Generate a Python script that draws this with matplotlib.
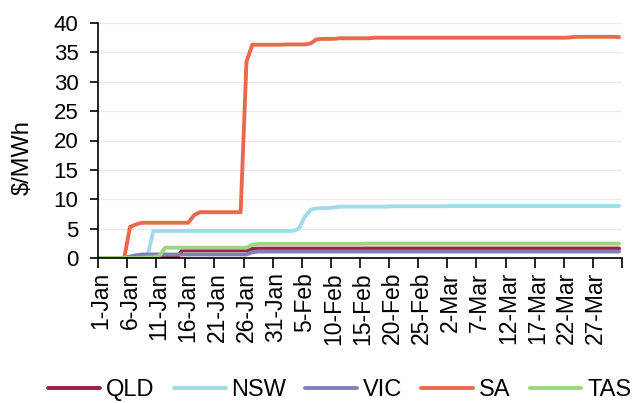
import numpy as np
import pandas as pd
import matplotlib
matplotlib.use('Agg')
import matplotlib.pyplot as plt

plt.rcParams['font.family'] = ['Liberation Sans', 'DejaVu Sans']

# daily cumulative values, 1 Jan to 31 Mar
days = pd.date_range('2019-01-01', '2019-03-31', freq='D')
day_labels = [f'{d.day}-{d.strftime("%b")}' for d in days]

qld = [0, 0, 0, 0, 0, 0, 0, 0, 0, 0,
       0, 0, 0, 0, 1.3, 1.3, 1.3, 1.3, 1.3, 1.3,
       1.3, 1.3, 1.3, 1.3, 1.3, 1.3, 1.55, 1.6, 1.6, 1.6,
       1.6, 1.6, 1.6, 1.6, 1.6, 1.6, 1.6, 1.6, 1.6, 1.6,
       1.6, 1.6, 1.6, 1.6, 1.6, 1.6, 1.62, 1.62, 1.62, 1.62,
       1.62, 1.62, 1.62, 1.62, 1.62, 1.62, 1.62, 1.62, 1.62, 1.62,
       1.62, 1.62, 1.62, 1.62, 1.62, 1.62, 1.62, 1.62, 1.62, 1.62,
       1.62, 1.62, 1.62, 1.62, 1.62, 1.62, 1.62, 1.62, 1.62, 1.62,
       1.62, 1.62, 1.62, 1.62, 1.62, 1.62, 1.62, 1.62, 1.62, 1.62]

nsw = [0, 0, 0, 0, 0, 0, 0, 0, 0.3, 4.6,
       4.6, 4.6, 4.6, 4.6, 4.6, 4.6, 4.6, 4.6, 4.6, 4.6,
       4.6, 4.6, 4.6, 4.6, 4.6, 4.6, 4.6, 4.6, 4.6, 4.6,
       4.6, 4.6, 4.6, 4.6, 5.0, 7.0, 8.2, 8.45, 8.5, 8.5,
       8.6, 8.75, 8.75, 8.75, 8.75, 8.75, 8.75, 8.75, 8.75, 8.75,
       8.8, 8.8, 8.8, 8.8, 8.8, 8.8, 8.8, 8.8, 8.8, 8.8,
       8.85, 8.85, 8.85, 8.85, 8.85, 8.85, 8.85, 8.85, 8.85, 8.85,
       8.85, 8.85, 8.85, 8.85, 8.85, 8.85, 8.85, 8.85, 8.85, 8.85,
       8.85, 8.85, 8.85, 8.85, 8.85, 8.85, 8.85, 8.85, 8.85, 8.85]

vic = [0, 0, 0, 0, 0, 0.25, 0.45, 0.6, 0.6, 0.6,
       0.6, 0.6, 0.6, 0.6, 0.6, 0.6, 0.6, 0.6, 0.6, 0.6,
       0.6, 0.6, 0.6, 0.6, 0.6, 0.6, 1.0, 1.1, 1.1, 1.1,
       1.1, 1.1, 1.1, 1.1, 1.1, 1.1, 1.1, 1.1, 1.1, 1.1,
       1.1, 1.1, 1.1, 1.1, 1.1, 1.1, 1.1, 1.1, 1.1, 1.1,
       1.1, 1.1, 1.1, 1.1, 1.1, 1.1, 1.1, 1.1, 1.1, 1.1,
       1.1, 1.1, 1.1, 1.1, 1.1, 1.1, 1.1, 1.1, 1.1, 1.1,
       1.1, 1.1, 1.1, 1.1, 1.1, 1.1, 1.1, 1.1, 1.1, 1.1,
       1.1, 1.1, 1.1, 1.1, 1.1, 1.1, 1.1, 1.1, 1.1, 1.1]

sa = [0, 0, 0, 0, 0, 5.3, 5.7, 6.0, 6.0, 6.0,
      6.0, 6.0, 6.0, 6.0, 6.0, 6.0, 7.3, 7.8, 7.8, 7.8,
      7.8, 7.8, 7.8, 7.8, 7.8, 33.4, 36.3, 36.3, 36.3, 36.3,
      36.3, 36.3, 36.35, 36.35, 36.35, 36.35, 36.5, 37.2, 37.3, 37.3,
      37.3, 37.4, 37.4, 37.4, 37.4, 37.4, 37.4, 37.5, 37.5, 37.5,
      37.5, 37.5, 37.5, 37.5, 37.5, 37.5, 37.5, 37.5, 37.5, 37.5,
      37.5, 37.5, 37.5, 37.5, 37.5, 37.5, 37.5, 37.5, 37.5, 37.5,
      37.5, 37.5, 37.5, 37.5, 37.5, 37.5, 37.5, 37.5, 37.5, 37.5,
      37.5, 37.6, 37.65, 37.65, 37.65, 37.65, 37.65, 37.65, 37.65, 37.6]

tas = [0, 0, 0, 0, 0, 0, 0, 0, 0.1, 0.1,
       0.3, 1.75, 1.75, 1.75, 1.75, 1.75, 1.75, 1.75, 1.75, 1.75,
       1.75, 1.75, 1.75, 1.75, 1.75, 1.75, 2.25, 2.4, 2.4, 2.4,
       2.4, 2.4, 2.4, 2.4, 2.4, 2.4, 2.4, 2.4, 2.4, 2.4,
       2.4, 2.4, 2.4, 2.4, 2.4, 2.4, 2.45, 2.45, 2.45, 2.45,
       2.45, 2.45, 2.45, 2.45, 2.45, 2.45, 2.45, 2.45, 2.45, 2.45,
       2.45, 2.45, 2.45, 2.45, 2.45, 2.45, 2.45, 2.45, 2.45, 2.45,
       2.45, 2.45, 2.45, 2.45, 2.45, 2.45, 2.45, 2.45, 2.45, 2.45,
       2.45, 2.45, 2.45, 2.45, 2.45, 2.45, 2.45, 2.45, 2.45, 2.45]

series = [('QLD', qld, '#9E1F45'),
          ('NSW', nsw, '#A0DCE8'),
          ('VIC', vic, '#7F82B4'),
          ('SA', sa, '#E8694D'),
          ('TAS', tas, '#9DD67D')]

fig = plt.figure(figsize=(6.4, 4.03), dpi=100)
ax = fig.add_axes([98 / 640, 1 - 258 / 403, 524 / 640, 235 / 403])

x = np.arange(len(days))
for name, vals, col in series:
    ax.plot(x, vals, color=col, lw=2.8, label=name, solid_capstyle='round')

ax.set_xlim(-0.5, len(days) - 0.5)
ax.set_ylim(0, 40)
ax.set_yticks(np.arange(0, 41, 5))
ax.grid(axis='y', color='#EBEBEB', lw=1.0)
ax.set_axisbelow(True)

# labels every 5 days, tick marks on the category boundaries
ax.set_xticks(x[::5])
ax.set_xticklabels(day_labels[::5], rotation=90)
ax.set_xticks(np.arange(-0.5, len(days), 5), minor=True)
ax.tick_params(axis='x', which='major', length=0, pad=10, labelsize=16.5)
ax.tick_params(axis='x', which='minor', length=7, width=1.2, direction='out')
ax.tick_params(axis='y', length=6, width=1.2, pad=8, labelsize=16)

for s in ['top', 'right']:
    ax.spines[s].set_visible(False)
for s in ['left', 'bottom']:
    ax.spines[s].set_linewidth(1.2)
    ax.spines[s].set_color('black')

fig.text(23 / 640, 1 - 158 / 403, r'\$/MWh', rotation=90,
         ha='center', va='center', fontsize=17)

fig.legend(loc='center', bbox_to_anchor=(340 / 640, 1 - 390 / 403), ncol=5,
           frameon=False, fontsize=17, handlelength=2.2, handletextpad=0.25,
           columnspacing=0.8)

fig.savefig('out.png', dpi=100)
